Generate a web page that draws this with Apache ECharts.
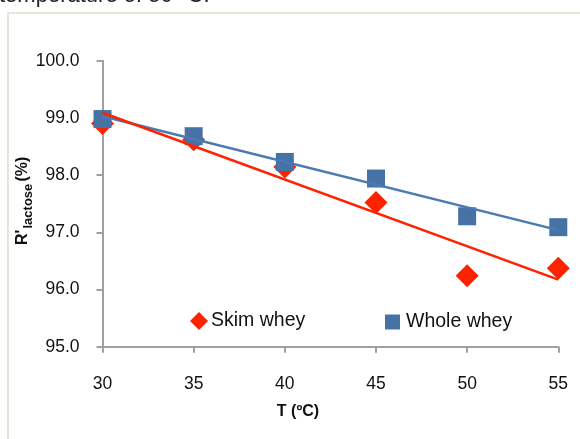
<!DOCTYPE html>
<html>
<head>
<meta charset="utf-8">
<script src="https://cdn.jsdelivr.net/npm/echarts@6/dist/echarts.min.js"></script>
<style>
  html, body { margin: 0; padding: 0; background: #fff; }
  #chart { width: 580px; height: 439px; }
</style>
</head>
<body>
<div id="chart"></div>
<script>
// ---- Data ----
const temperatures = [30, 35, 40, 45, 50, 55];
const skimWhey = [98.90, 98.62, 98.14, 97.52, 96.24, 96.37];
const wholeWhey = [98.98, 98.68, 98.23, 97.94, 97.28, 97.09];
const seriesNames = ['Skim whey', 'Whole whey'];
const xTicks = [30, 35, 40, 45, 50, 55];
const yTicks = ['95.0', '96.0', '97.0', '98.0', '99.0', '100.0'];

// least-squares linear trend line (as in the spreadsheet chart)
function trend(xs, ys) {
  const n = xs.length;
  const mx = xs.reduce((a, b) => a + b, 0) / n;
  const my = ys.reduce((a, b) => a + b, 0) / n;
  let sxy = 0, sxx = 0;
  for (let i = 0; i < n; i++) { sxy += (xs[i] - mx) * (ys[i] - my); sxx += (xs[i] - mx) ** 2; }
  const b = sxy / sxx, a = my - b * mx;
  const x0 = xs[0], x1 = xs[n - 1];
  return [[x0, a + b * x0], [x1, a + b * x1]];
}

const RED = '#ff2200';
const BLUE = '#4672a6';
const BLUE_LINE = '#4a7ab2';
const AXIS = '#a0a0a0';
const FONT = '"Liberation Sans", Arial, sans-serif';

const chart = echarts.init(document.getElementById('chart'), null, { renderer: 'canvas' });
chart.setOption({
  animation: false,
  backgroundColor: '#ffffff',
  grid: { left: 102.5, right: 21.7, top: 60.7, bottom: 92.3, containLabel: false, outerBoundsMode: 'none' },
  xAxis: {
    type: 'value', min: xTicks[0], max: xTicks[xTicks.length - 1], interval: 5,
    axisLine: { show: true, lineStyle: { color: AXIS, width: 2 } },
    axisTick: { show: true, inside: false, length: 6, lineStyle: { color: AXIS, width: 2 } },
    splitLine: { show: false },
    axisLabel: { fontSize: 17.5, color: '#111', fontFamily: FONT, margin: 28 }
  },
  yAxis: {
    type: 'value', min: 95, max: 100, interval: 1,
    axisLine: { show: true, lineStyle: { color: AXIS, width: 2 } },
    axisTick: { show: true, inside: false, length: 6, lineStyle: { color: AXIS, width: 2 } },
    splitLine: { show: false },
    axisLabel: {
      fontSize: 17.5, color: '#111', fontFamily: FONT, margin: 23,
      formatter: v => yTicks[Math.round(v - 95)]
    }
  },
  legend: [
    {
      data: [{ name: seriesNames[0], icon: 'diamond' }],
      left: 190, top: 311, itemWidth: 18, itemHeight: 18, padding: 0,
      textStyle: { fontSize: 19.5, color: '#111', fontFamily: FONT, padding: [0, 0, 0, -2] },
      selectedMode: false
    },
    {
      data: [{ name: seriesNames[1], icon: 'rect' }],
      left: 385, top: 312, itemWidth: 15, itemHeight: 15, padding: 0,
      textStyle: { fontSize: 19.5, color: '#111', fontFamily: FONT, padding: [0, 0, 0, 1] },
      selectedMode: false
    }
  ],
  series: [
    {
      name: seriesNames[0], type: 'scatter', symbol: 'diamond', symbolSize: 23,
      itemStyle: { color: RED, opacity: 1 },
      data: temperatures.map((t, i) => [t, skimWhey[i]])
    },
    {
      name: seriesNames[1], type: 'scatter', symbol: 'rect', symbolSize: 18,
      itemStyle: { color: BLUE, opacity: 1 },
      data: temperatures.map((t, i) => [t, wholeWhey[i]])
    },
    {
      name: 'Whole trend', type: 'line', showSymbol: false, silent: true,
      lineStyle: { color: BLUE_LINE, width: 2.5 },
      data: trend(temperatures, wholeWhey)
    },
    {
      name: 'Skim trend', type: 'line', showSymbol: false, silent: true,
      lineStyle: { color: RED, width: 2.5 },
      data: trend(temperatures, skimWhey)
    }
  ],
  graphic: [
    {
      type: 'rect', shape: { x: 8, y: 13, width: 700, height: 600 },
      style: { fill: null, stroke: '#e8e6da', lineWidth: 2 }, z: -10, silent: true
    },
    {
      type: 'text', x: -1, y: -4,
      style: { text: 'temperature of 50 °C.', fontSize: 22, fontFamily: FONT, fill: '#222',
               align: 'left', verticalAlign: 'middle' }
    },
    {
      type: 'text', x: 298, y: 412,
      style: { text: 'T (ºC)', fontSize: 16, fontWeight: 'bold', fontFamily: FONT, fill: '#111',
               align: 'center', verticalAlign: 'middle' }
    },
    {
      type: 'text', x: 23, y: 245, rotation: Math.PI / 2,
      style: { text: 'R\'', fontSize: 16, fontWeight: 'bold', fontFamily: FONT, fill: '#111',
               align: 'left', verticalAlign: 'middle' }
    },
    {
      type: 'text', x: 28.5, y: 228.5, rotation: Math.PI / 2,
      style: { text: 'lactose', fontSize: 13, fontWeight: 'bold', fontFamily: FONT, fill: '#111',
               align: 'left', verticalAlign: 'middle' }
    },
    {
      type: 'text', x: 23, y: 181.5, rotation: Math.PI / 2,
      style: { text: '(%)', fontSize: 16, fontWeight: 'bold', fontFamily: FONT, fill: '#111',
               align: 'left', verticalAlign: 'middle' }
    }
  ]
});
</script>
</body>
</html>
